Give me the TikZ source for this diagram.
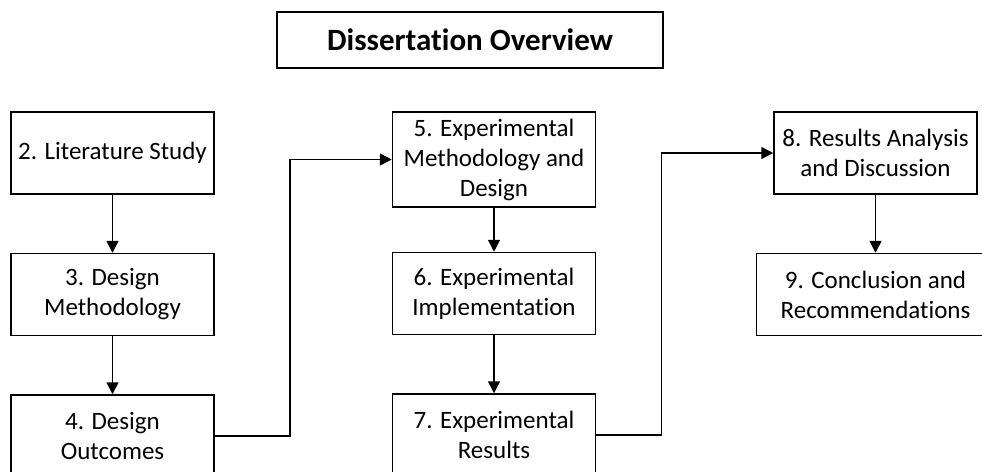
\documentclass[tikz,border=0pt]{standalone}
\usepackage{fontspec}
\setmainfont{Carlito}[Ligatures=NoCommon]
\usepackage{tikz}
\usetikzlibrary{arrows.meta,positioning}

\begin{document}
\begin{tikzpicture}[
    x=1pt, y=1pt,
    node distance=58pt and 177pt,
    box/.style={draw, rectangle, align=center, minimum width=203pt, minimum height=82pt, inner sep=6pt, line width=1.5pt, font=\fontsize{25}{30}\selectfont},
    flow/.style={-{Triangle[length=12pt,width=12pt]}, line width=1.5pt}
]
    \useasboundingbox (0,0) rectangle (982,-471);
    \clip (0,0) rectangle (982,-471);

    \node[box, minimum width=386pt, minimum height=56pt, font=\bfseries\fontsize{31}{36}\selectfont] (title) at (470,-40) {Dissertation Overview};

    \node[box] (lit) at (112.5,-153) {2. Literature Study};
    \node[box, below=of lit] (desmeth) {3. Design\\Methodology};
    \node[box, below=of desmeth] (desout) {4. Design\\Outcomes};

    \node[box, minimum height=95pt, right=of lit.north east, anchor=north west] (expmeth) {5. Experimental\\Methodology and\\Design};
    \node[box, below=44pt of expmeth] (expimpl) {6. Experimental\\Implementation};
    \node[box, below=of expimpl] (expres) {7. Experimental\\Results};

    \node[box, right=of expmeth.north east, anchor=north west] (analysis) {8. Results Analysis\\and Discussion};
    \node[box, minimum width=238pt, below=of analysis] (concl) {9. Conclusion and\\Recommendations};

    \draw[flow] (lit) -- (desmeth);
    \draw[flow] (desmeth) -- (desout);
    \draw[flow] (expmeth) -- (expimpl);
    \draw[flow] (expimpl) -- (expres);
    \draw[flow] (analysis) -- (concl);
    \draw[flow] (desout.east) -- ++(75,0) |- (expmeth.west);
    \draw[flow] (expres.east) -- ++(65,0) |- (analysis.west);
\end{tikzpicture}
\end{document}
